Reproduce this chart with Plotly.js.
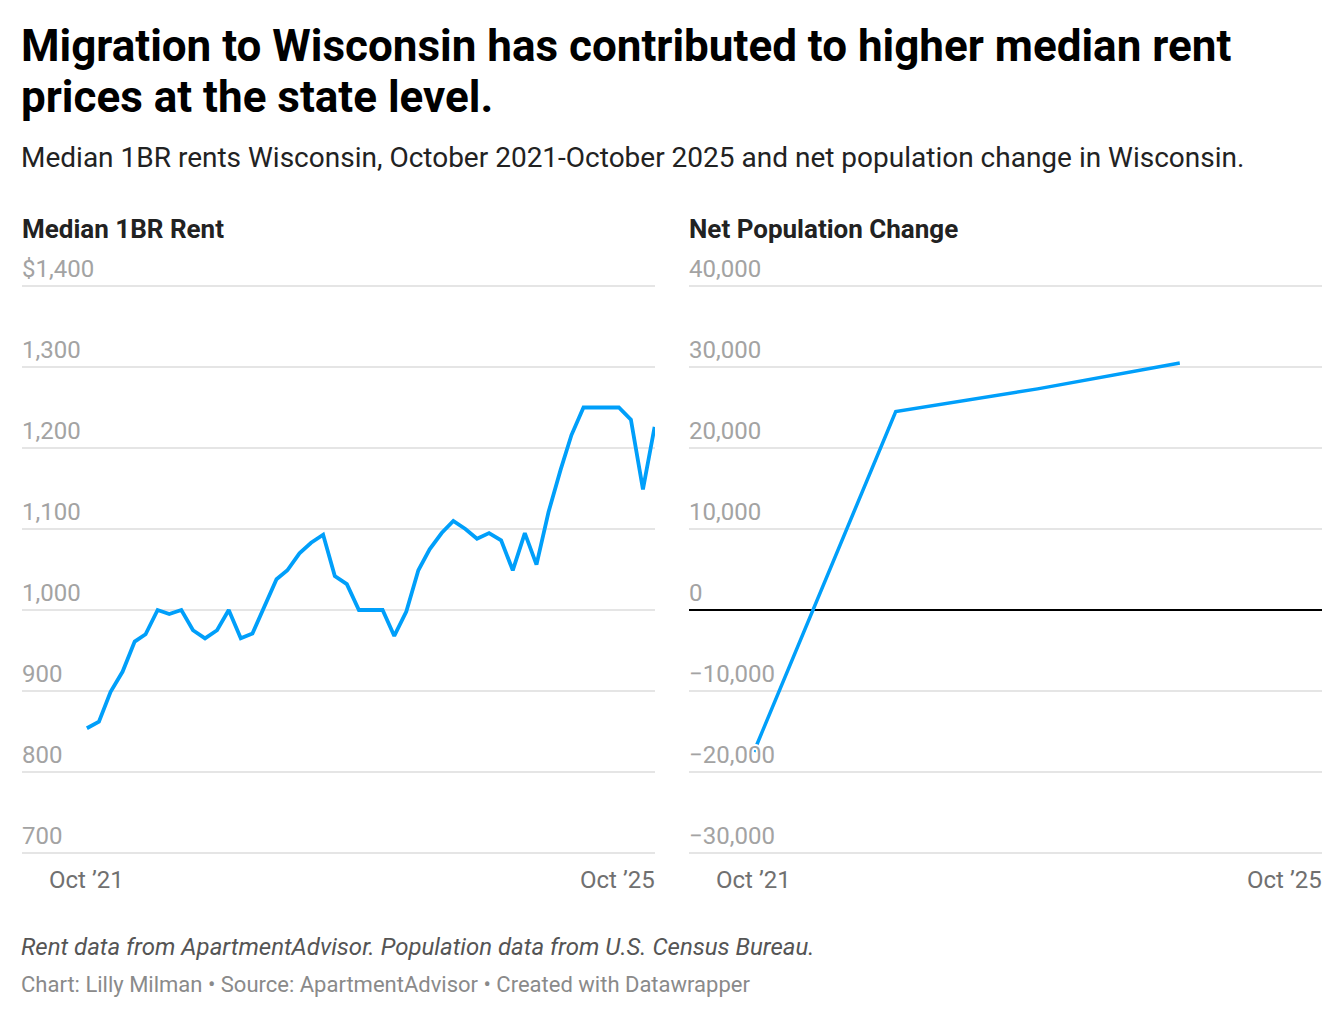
<!DOCTYPE html>
<html>
<head>
<meta charset="utf-8">
<script src="https://cdn.plot.ly/plotly-3.0.1.min.js"></script>
<style>
  html, body { margin: 0; padding: 0; background: #fff; }
  #chart { width: 1344px; height: 1018px; }
</style>
</head>
<body>
<div id="chart"></div>
<script>
// ---- Data ----
const rentMonths = [
  '2021-10-01','2021-11-01','2021-12-01','2022-01-01','2022-02-01','2022-03-01','2022-04-01',
  '2022-05-01','2022-06-01','2022-07-01','2022-08-01','2022-09-01','2022-10-01','2022-11-01',
  '2022-12-01','2023-01-01','2023-02-01','2023-03-01','2023-04-01','2023-05-01','2023-06-01',
  '2023-07-01','2023-08-01','2023-09-01','2023-10-01','2023-11-01','2023-12-01','2024-01-01',
  '2024-02-01','2024-03-01','2024-04-01','2024-05-01','2024-06-01','2024-07-01','2024-08-01',
  '2024-09-01','2024-10-01','2024-11-01','2024-12-01','2025-01-01','2025-02-01','2025-03-01',
  '2025-04-01','2025-05-01','2025-06-01','2025-07-01','2025-08-01','2025-09-01','2025-10-01'
];
const medianRent = [
  854, 862, 899, 924, 961, 970, 1000,
  995, 1000, 975, 965, 975, 1000, 965,
  971, 1005, 1038, 1049, 1070, 1083, 1093,
  1042, 1032, 1000, 1000, 1000, 968, 998,
  1049, 1075, 1095, 1110, 1100, 1088, 1095,
  1086, 1049, 1095, 1056, 1121, 1173, 1216,
  1250, 1250, 1250, 1250, 1235, 1149, 1226
];
const popDates = ['2021-10-01', '2022-10-01', '2023-10-01', '2024-10-01'];
const netPopChange = [-17500, 24500, 27300, 30500];

const rentTickVals = [700, 800, 900, 1000, 1100, 1200, 1300, 1400];
const rentTickText = ['700', '800', '900', '1,000', '1,100', '1,200', '1,300', '$1,400'];
const popTickVals = [-30000, -20000, -10000, 0, 10000, 20000, 30000, 40000];
const popTickText = ['\u221230,000', '\u221220,000', '\u221210,000', '0', '10,000', '20,000', '30,000', '40,000'];
const xTickDates = ['2021-10-01', '2025-10-01'];
const xTickText = ['Oct \u201921', 'Oct \u201925'];

const titleLines = [
  'Migration to Wisconsin has contributed to higher median rent',
  'prices at the state level.'
];

// ---- Layout helpers ----
const W = 1344, H = 1018;
const py = px => 1 - px / H;
const FONT = 'Roboto, "Noto Sans", sans-serif';
const LINE = '#009ffa';
const GRID = '#e5e5e5';
const xRange = ['2021-04-17', '2025-10-02'];

const halo = '2px 0 0 #fff, -2px 0 0 #fff, 0 2px 0 #fff, 0 -2px 0 #fff, 1px 1px 0 #fff, -1px -1px 0 #fff, 1px -1px 0 #fff, -1px 1px 0 #fff';

const traces = [
  {
    x: rentMonths, y: medianRent, type: 'scatter', mode: 'lines',
    xaxis: 'x', yaxis: 'y',
    line: { color: LINE, width: 3.8, shape: 'linear' },
    hoverinfo: 'x+y', showlegend: false
  },
  {
    x: popDates, y: netPopChange, type: 'scatter', mode: 'lines',
    xaxis: 'x2', yaxis: 'y2',
    line: { color: LINE, width: 3.5, shape: 'linear' },
    hoverinfo: 'x+y', showlegend: false
  }
];

const yDomain = [py(854.6), py(284.4)];

const annotations = [];
// title lines
titleLines.forEach((t, i) => annotations.push({
  xref: 'paper', yref: 'paper', x: 19 / W, y: py(i === 0 ? 46 : 97), xanchor: 'left', yanchor: 'middle',
  showarrow: false, text: '<b>' + t + '</b>',
  font: { family: FONT, size: 44, color: '#000' }
}));
// y tick labels (above gridlines, Datawrapper style)
rentTickVals.forEach((v, i) => annotations.push({
  xref: 'x domain', yref: 'y', x: 0, y: v, xanchor: 'left', yanchor: 'middle',
  xshift: -2, yshift: 17, showarrow: false, text: rentTickText[i],
  font: { family: FONT, size: 24, color: '#a3a3a3', shadow: halo }
}));
popTickVals.forEach((v, i) => annotations.push({
  xref: 'x2 domain', yref: 'y2', x: 0, y: v, xanchor: 'left', yanchor: 'middle',
  xshift: -2, yshift: 17, showarrow: false, text: popTickText[i],
  font: { family: FONT, size: 24, color: '#a3a3a3', shadow: halo }
}));
// x tick labels
['x', 'x2'].forEach(ax => {
  xTickDates.forEach((d, i) => annotations.push({
    xref: ax, yref: 'paper', x: d, y: py(880), xanchor: i === 0 ? 'center' : 'right',
    yanchor: 'middle', xshift: i === 0 ? 0 : 2, showarrow: false, text: xTickText[i],
    font: { family: FONT, size: 24, color: '#707070' }
  }));
});
// subtitle, panel titles, footer
annotations.push(
  { xref: 'paper', yref: 'paper', x: 19 / W, y: py(157), xanchor: 'left', yanchor: 'middle', showarrow: false,
    text: 'Median 1BR rents Wisconsin, October 2021-October 2025 and net population change in Wisconsin.',
    font: { family: FONT, size: 28, color: '#222' } },
  { xref: 'paper', yref: 'paper', x: 20 / W, y: py(229), xanchor: 'left', yanchor: 'middle', showarrow: false,
    text: '<b>Median 1BR Rent</b>', font: { family: FONT, size: 26, color: '#222' } },
  { xref: 'paper', yref: 'paper', x: 687 / W, y: py(229), xanchor: 'left', yanchor: 'middle', showarrow: false,
    text: '<b>Net Population Change</b>', font: { family: FONT, size: 26, color: '#222' } },
  { xref: 'paper', yref: 'paper', x: 19 / W, y: py(947), xanchor: 'left', yanchor: 'middle', showarrow: false,
    text: '<i>Rent data from ApartmentAdvisor. Population data from U.S. Census Bureau.</i>',
    font: { family: FONT, size: 24, color: '#555' } },
  { xref: 'paper', yref: 'paper', x: 19 / W, y: py(984), xanchor: 'left', yanchor: 'middle', showarrow: false,
    text: 'Chart: Lilly Milman \u2022 Source: ApartmentAdvisor \u2022 Created with Datawrapper',
    font: { family: FONT, size: 22, color: '#8a8a8a' } }
);

const baseX = {
  type: 'date', range: xRange, showgrid: false, zeroline: false, showline: false,
  showticklabels: false, ticks: '', fixedrange: true
};
const baseY = {
  showgrid: true, gridcolor: GRID, gridwidth: 1.5, showline: false, ticks: '',
  showticklabels: false, tickmode: 'array', fixedrange: true, domain: yDomain
};

const layout = {
  width: W, height: H,
  margin: { l: 0, r: 0, t: 0, b: 0, pad: 0 },
  paper_bgcolor: '#fff', plot_bgcolor: '#fff',
  font: { family: FONT },
  xaxis: Object.assign({}, baseX, { domain: [22 / W, 655 / W], anchor: 'y' }),
  xaxis2: Object.assign({}, baseX, { domain: [689 / W, 1322 / W], anchor: 'y2' }),
  yaxis: Object.assign({}, baseY, { range: [698, 1402], tickvals: rentTickVals, zeroline: false, anchor: 'x' }),
  yaxis2: Object.assign({}, baseY, { range: [-30200, 40200], tickvals: popTickVals, zeroline: true,
    zerolinecolor: '#000', zerolinewidth: 1.5, anchor: 'x2' }),
  annotations: annotations,
  showlegend: false,
  hovermode: 'closest'
};

Plotly.newPlot('chart', traces, layout, { displayModeBar: false, responsive: false });
</script>
</body>
</html>
